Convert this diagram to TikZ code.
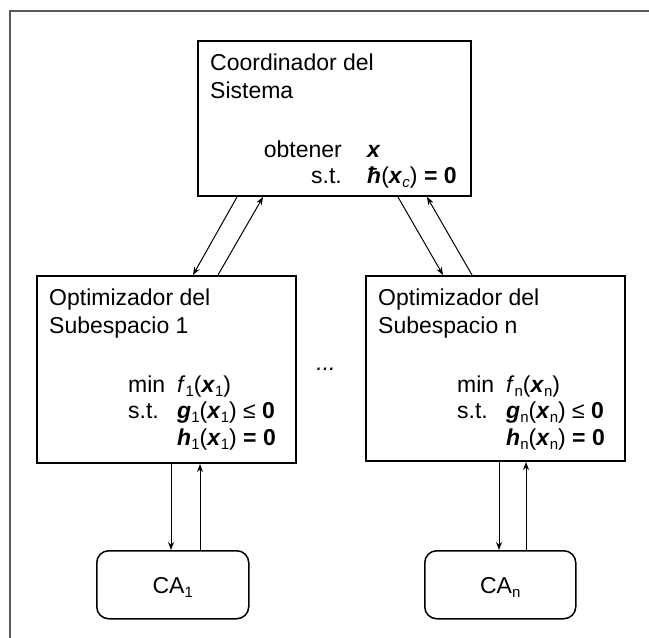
\documentclass[tikz,border=0pt]{standalone}
\usepackage{fontspec}
\setmainfont{Liberation Sans}
\usetikzlibrary{arrows.meta}
\tikzset{box/.style = {draw, line width=2, rectangle, inner sep=0, anchor=north west},
  cabox/.style = {draw, line width=1.5, rounded corners=12, inner sep=0, anchor=north west},
  txt/.style = {inner sep=0, anchor=base west},
  lbl/.style = {inner sep=0, anchor=base east},
  link/.style = {line width=1, -{Stealth[length=8, width=6]}}}
\newcommand{\vecx}{\textbf{\textit{x}}}
\newcommand{\low}[1]{\raisebox{-4pt}{\fontsize{15}{15}\selectfont #1}}

\begin{document}
\begin{tikzpicture}[x=1pt, y=-1pt, font=\fontsize{23}{28}\selectfont]
    \useasboundingbox (0, 0) rectangle (649, 638);
    \draw [line width=2, black!65] (10, 638) -- (10, 11) -- (649, 11);

    % boxes
    \node [box, minimum width=273, minimum height=155] (coord) at (197, 40) {};
    \node [box, minimum width=259, minimum height=187] (opt1) at (36, 275) {};
    \node [box, minimum width=259, minimum height=185] (optn) at (365, 275) {};
    \node [cabox, minimum width=152, minimum height=68] (ca1) at (96, 550) {};
    \node [cabox, minimum width=151, minimum height=68] (can) at (424, 550) {};

    % coordinador
    \node [txt] (coordt1) at (210, 70) {Coordinador del};
    \node [txt] (coordt2) at (210, 98) {Sistema};
    \node [lbl] (coordl1) at (342, 157) {obtener};
    \node [txt] (coordf1) at (367, 157) {\vecx};
    \node [lbl] (coordl2) at (342, 183) {s.t.};
    \node [txt] (coordf2) at (367, 183) {\textbf{\textit{ħ}}(\vecx\low{\textit{c}}) \textbf{= 0}};

    % subespacio 1
    \node [txt] (opt1t1) at (49, 305) {Optimizador del};
    \node [txt] (opt1t2) at (49, 333) {Subespacio 1};
    \node [txt] (opt1l1) at (128, 392) {min};
    \node [txt] (opt1f1) at (177, 392) {\textit{f}\low{1}(\vecx\low{1})};
    \node [txt] (opt1l2) at (128, 418) {s.t.};
    \node [txt] (opt1f2) at (177, 418) {\textbf{\textit{g}}\low{1}(\vecx\low{1}) ≤ \textbf{0}};
    \node [txt] (opt1f3) at (177, 445) {\textbf{\textit{h}}\low{1}(\vecx\low{1}) \textbf{= 0}};

    % subespacio n
    \node [txt] (optnt1) at (378, 305) {Optimizador del};
    \node [txt] (optnt2) at (378, 333) {Subespacio n};
    \node [txt] (optnl1) at (457, 392) {min};
    \node [txt] (optnf1) at (506, 392) {\textit{f}\low{n}(\vecx\low{n})};
    \node [txt] (optnl2) at (457, 418) {s.t.};
    \node [txt] (optnf2) at (506, 418) {\textbf{\textit{g}}\low{n}(\vecx\low{n}) ≤ \textbf{0}};
    \node [txt] (optnf3) at (506, 445) {\textbf{\textit{h}}\low{n}(\vecx\low{n}) \textbf{= 0}};

    \node [inner sep=0, anchor=base] (dots) at (326, 370) {\textit{...}};

    \node [inner sep=0, anchor=base] (ca1t) at (ca1.center |- 0, 593) {CA\low{1}};
    \node [inner sep=0, anchor=base] (cant) at (can.center |- 0, 593) {CA\low{n}};

    % links
    \draw [link] ([xshift=40]coord.south west) -- ([xshift=157]opt1.north west);
    \draw [link] ([xshift=182]opt1.north west) -- ([xshift=66]coord.south west);
    \draw [link] ([xshift=201]coord.south west) -- ([xshift=78]optn.north west);
    \draw [link] ([xshift=107]optn.north west) -- ([xshift=230]coord.south west);

    \draw [link] ([xshift=135]opt1.south west) -- ([xshift=75]ca1.north west);
    \draw [link] ([xshift=104]ca1.north west) -- ([xshift=164]opt1.south west);
    \draw [link] ([xshift=134]optn.south west) -- ([xshift=75]can.north west);
    \draw [link] ([xshift=102]can.north west) -- ([xshift=161]optn.south west);
\end{tikzpicture}
\end{document}
